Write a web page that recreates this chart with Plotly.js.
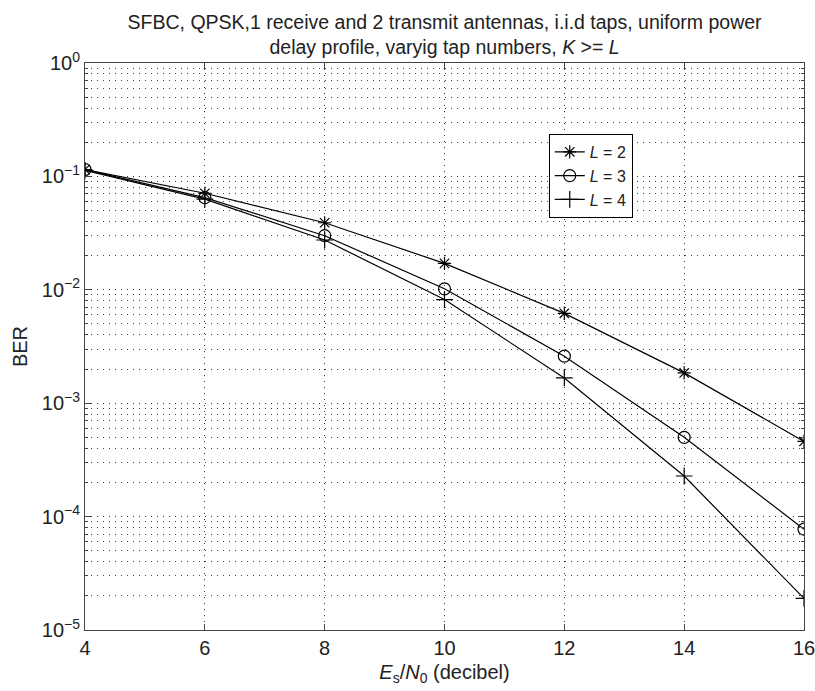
<!DOCTYPE html>
<html>
<head>
<meta charset="utf-8">
<script src="https://cdn.plot.ly/plotly-3.0.1.min.js"></script>
<style>html,body{margin:0;padding:0;background:#fff;}#chart{width:815px;height:691px;}</style>
</head>
<body>
<div id="chart"></div>
<script>
const snr = [4, 6, 8, 10, 12, 14, 16];
const berL2 = [0.115, 0.071, 0.039, 0.0171, 0.0062, 0.00185, 0.00046];
const berL3 = [0.115, 0.065, 0.030, 0.0102, 0.0026, 0.00050, 0.0000775];
const berL4 = [0.113, 0.063, 0.0275, 0.0082, 0.00167, 0.000228, 0.000019];
const seriesNames = ['<i>L</i> = 2', '<i>L</i> = 3', '<i>L</i> = 4'];
const yTickVals = [1, 0.1, 0.01, 0.001, 0.0001, 0.00001];
const yTickText = ['10<sup>0</sup>', '10<sup>\u22121</sup>', '10<sup>\u22122</sup>', '10<sup>\u22123</sup>', '10<sup>\u22124</sup>', '10<sup>\u22125</sup>'];
const xTickVals = [4, 6, 8, 10, 12, 14, 16];

const lineStyle = {color: '#000', width: 1.2};
const traces = [
  {x: snr, y: berL2, name: seriesNames[0], mode: 'lines+markers', line: lineStyle,
   marker: {symbol: 'asterisk-open', size: 11, color: '#000', line: {color: '#000', width: 1.2}}},
  {x: snr, y: berL3, name: seriesNames[1], mode: 'lines+markers', line: lineStyle,
   marker: {symbol: 'circle-open', size: 12, color: '#000', line: {color: '#000', width: 1.2}}},
  {x: snr, y: berL4, name: seriesNames[2], mode: 'lines+markers', line: lineStyle,
   marker: {symbol: 'cross-thin-open', size: 12, color: '#000', line: {color: '#000', width: 1.2}}}
];

const fam = 'Liberation Sans, Arial, Helvetica, sans-serif';
const font = {family: fam, color: '#222', size: 20};
const gridDash = '1px,5px';
const layout = {
  width: 815, height: 691,
  margin: {l: 85, r: 11, t: 63, b: 61},
  paper_bgcolor: '#fff', plot_bgcolor: '#fff',
  font: font,
  title: {text: 'SFBC, QPSK,1 receive and 2 transmit antennas, i.i.d taps, uniform power<br>delay profile, varyig tap numbers, <i>K</i> >= <i>L</i>',
          x: 0.5455, xanchor: 'center', yref: 'container', y: 0.958, yanchor: 'middle', font: {size: 19.5, family: fam, color: '#222'}},
  xaxis: {
    range: [4, 16], tickvals: xTickVals, ticktext: xTickVals.map(String),
    showline: true, linecolor: '#444', linewidth: 1, mirror: 'ticks',
    ticks: 'inside', ticklen: 6, tickcolor: '#444',
    showgrid: true, gridcolor: '#333', griddash: gridDash, gridwidth: 1,
    zeroline: false, ticklabeloverflow: 'allow',
    title: {text: '<i>E</i><sub>s</sub>/<i>N</i><sub>0</sub> (decibel)', standoff: 6, font: {size: 20}},
    tickfont: {size: 20}
  },
  yaxis: {
    type: 'log', range: [-5, 0], tickvals: yTickVals, ticktext: yTickText,
    showline: true, linecolor: '#444', linewidth: 1, mirror: 'ticks',
    ticks: 'inside', ticklen: 6, tickcolor: '#444',
    showgrid: true, gridcolor: '#333', griddash: gridDash, gridwidth: 1,
    zeroline: false, ticklabeloverflow: 'allow',
    minor: {dtick: 'D1', showgrid: true, gridcolor: '#444', griddash: gridDash, gridwidth: 1, ticks: 'inside', ticklen: 3, tickcolor: '#444'},
    title: {text: 'BER', standoff: 8, font: {size: 20}},
    tickfont: {size: 20}
  },
  showlegend: true,
  legend: {x: 0.645, y: 0.875, xanchor: 'left', yanchor: 'top', bgcolor: '#fff', bordercolor: '#000', borderwidth: 1,
           font: {size: 16}, tracegroupgap: 0, itemwidth: 30},
};
Plotly.newPlot('chart', traces, layout, {displayModeBar: false, staticPlot: true});
</script>
</body>
</html>
